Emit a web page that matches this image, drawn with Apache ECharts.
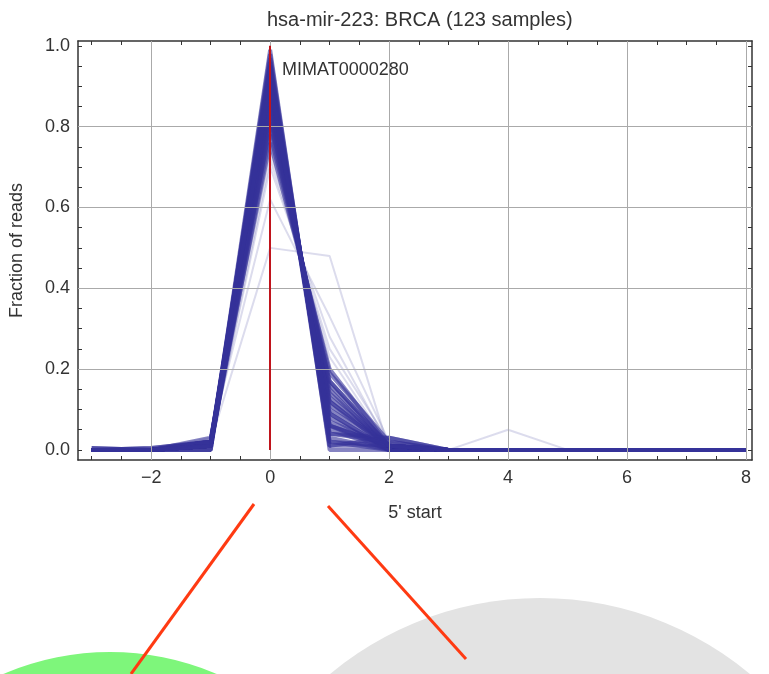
<!DOCTYPE html>
<html>
<head>
<meta charset="utf-8">
<script src="https://cdn.jsdelivr.net/npm/echarts@6/dist/echarts.min.js"></script>
<style>
  html, body { margin: 0; padding: 0; background: #fff; }
  #main { width: 769px; height: 674px; }
</style>
</head>
<body>
<div id="main"></div>
<script>
// 5' start positions (x axis)
var starts = [-3, -2, -1, 0, 1, 2, 3, 4, 5, 6, 7, 8];

// per-sample fraction of reads at each start position (main band)
var mainSamples = [
  [0, 0, 0.01, 0.99, 0.00, 0, 0, 0, 0, 0, 0, 0],
  [0, 0, 0.01, 0.97, 0.02, 0, 0, 0, 0, 0, 0, 0],
  [0, 0.005, 0.02, 0.95, 0.03, 0, 0, 0, 0, 0, 0, 0],
  [0, 0, 0.01, 0.94, 0.05, 0, 0, 0, 0, 0, 0, 0],
  [0, 0, 0.00, 0.93, 0.06, 0.01, 0, 0, 0, 0, 0, 0],
  [0.005, 0, 0.02, 0.92, 0.06, 0, 0, 0, 0, 0, 0, 0],
  [0, 0, 0.01, 0.91, 0.08, 0, 0, 0, 0, 0, 0, 0],
  [0, 0, 0.01, 0.90, 0.09, 0, 0, 0, 0, 0, 0, 0],
  [0, 0, 0.02, 0.89, 0.09, 0, 0, 0, 0, 0, 0, 0],
  [0, 0, 0.01, 0.88, 0.10, 0.01, 0, 0, 0, 0, 0, 0],
  [0, 0, 0.00, 0.87, 0.12, 0.01, 0, 0, 0, 0, 0, 0],
  [0, 0.005, 0.02, 0.86, 0.12, 0, 0, 0, 0, 0, 0, 0],
  [0, 0, 0.01, 0.85, 0.13, 0.01, 0, 0, 0, 0, 0, 0],
  [0, 0, 0.01, 0.84, 0.14, 0.01, 0, 0, 0, 0, 0, 0],
  [0, 0, 0.02, 0.83, 0.15, 0, 0, 0, 0, 0, 0, 0],
  [0, 0, 0.01, 0.82, 0.16, 0.01, 0, 0, 0, 0, 0, 0],
  [0, 0, 0.02, 0.80, 0.17, 0.01, 0, 0, 0, 0, 0, 0],
  [0, 0, 0.01, 0.96, 0.02, 0.01, 0, 0, 0, 0, 0, 0],
  [0, 0, 0.00, 0.98, 0.01, 0.01, 0, 0, 0, 0, 0, 0],
  [0, 0, 0.01, 0.92, 0.04, 0.03, 0, 0, 0, 0, 0, 0],
  [0, 0, 0.02, 0.90, 0.07, 0.01, 0, 0, 0, 0, 0, 0],
  [0.005, 0, 0.01, 0.87, 0.11, 0.01, 0, 0, 0, 0, 0, 0],
  [0, 0, 0.01, 0.78, 0.19, 0.02, 0, 0, 0, 0, 0, 0],
  [0, 0, 0.03, 0.76, 0.20, 0.01, 0, 0, 0, 0, 0, 0],
  [0, 0, 0.01, 0.93, 0.04, 0.02, 0, 0, 0, 0, 0, 0],
  [0, 0, 0.01, 0.95, 0.01, 0.03, 0, 0, 0, 0, 0, 0],
  [0, 0, 0.02, 0.91, 0.06, 0.01, 0, 0, 0, 0, 0, 0],
  [0, 0, 0.01, 0.81, 0.17, 0.01, 0, 0, 0, 0, 0, 0]
];

// faint outlier samples
var faintSamples = [
  [0, 0, 0.02, 0.50, 0.48, 0, 0, 0, 0, 0, 0, 0],
  [0, 0, 0.03, 0.62, 0.33, 0.02, 0, 0, 0, 0, 0, 0],
  [0, 0, 0.01, 0.70, 0.28, 0.01, 0, 0, 0, 0, 0, 0],
  [0, 0, 0.01, 0.88, 0.06, 0, 0, 0.05, 0, 0, 0, 0],
  [0, 0, 0.01, 0.72, 0.25, 0.02, 0, 0, 0, 0, 0, 0],
  [0, 0, 0.02, 0.74, 0.23, 0.01, 0, 0, 0, 0, 0, 0]
];

var xLabelVals = [-2, 0, 2, 4, 6, 8];
var xTickVals = [-3, -2.5, -2, -1.5, -1, -0.5, 0, 0.5, 1, 1.5, 2, 2.5, 3, 3.5, 4, 4.5, 5, 5.5, 6, 6.5, 7, 7.5, 8];
var yLabelVals = [0, 0.2, 0.4, 0.6, 0.8, 1.0];
var yTickVals = [0, 0.05, 0.1, 0.15, 0.2, 0.25, 0.3, 0.35, 0.4, 0.45, 0.5, 0.55, 0.6, 0.65, 0.7, 0.75, 0.8, 0.85, 0.9, 0.95, 1.0];
var xGridVals = [-2, 0, 2, 4, 6, 8];
var yGridVals = [0.2, 0.4, 0.6, 0.8];

var font = 'Liberation Sans, Arial, sans-serif';
var chart = echarts.init(document.getElementById('main'));

function toPoints(row) {
  return row.map(function (v, i) { return [starts[i], v]; });
}

var series = [];
// grid lines
series.push({
  name: 'grid', type: 'line', data: [], z: 1,
  markLine: {
    silent: true, symbol: 'none', label: { show: false }, animation: false,
    lineStyle: { color: '#aaa', width: 1, type: 'solid' },
    data: xGridVals.map(function (v) { return { xAxis: v }; })
      .concat(yGridVals.map(function (v) { return { yAxis: v }; }))
  }
});
faintSamples.forEach(function (row, i) {
  series.push({
    name: 'faint' + i, type: 'line', data: toPoints(row), symbol: 'none', silent: true,
    lineStyle: { color: '#3d3d99', width: 2, opacity: 0.18 }, z: 2
  });
});
mainSamples.forEach(function (row, i) {
  series.push({
    name: 'main' + i, type: 'line', data: toPoints(row), symbol: 'none', silent: true,
    lineStyle: { color: '#35329a', width: 4, opacity: 0.6 }, z: 3
  });
});
// red reference line and label
series.push({
  name: 'ref', type: 'line', data: [], z: 5,
  markLine: {
    silent: true, symbol: 'none', label: { show: false },
    lineStyle: { color: '#c0141c', width: 2, type: 'solid' },
    data: [[{ coord: [0, 0] }, { coord: [0, 1] }]]
  },
  markPoint: {
    silent: true, symbolSize: 0,
    label: { show: true, position: 'right', distance: 0, formatter: 'MIMAT0000280', color: '#333', fontSize: 18, fontFamily: font },
    data: [{ coord: [0.2, 0.94] }]
  }
});

var tickStyle = { show: true, inside: true, length: 4, lineStyle: { color: '#333' } };
var option = {
  animation: false,
  backgroundColor: '#fff',
  title: {
    text: 'hsa-mir-223: BRCA (123 samples)',
    left: 262, top: 5,
    textStyle: { fontSize: 20, fontWeight: 'normal', color: '#333', fontFamily: font }
  },
  grid: { left: 78, right: 17, top: 41, bottom: 214 },
  xAxis: [{
    type: 'value', min: -3.23, max: 8.1,
    name: "5' start", nameLocation: 'middle', nameGap: 44,
    nameTextStyle: { fontSize: 18, color: '#333', fontFamily: font },
    axisLine: { show: true, onZero: false, lineStyle: { color: '#333', width: 1.5 } },
    axisTick: Object.assign({ customValues: xTickVals }, tickStyle),
    axisLabel: { customValues: xLabelVals, fontSize: 18, color: '#333', fontFamily: font, margin: 9,
      formatter: function (v) { return v < 0 ? '\u2212' + Math.abs(v) : String(v); } },
    splitLine: { show: false }
  }, {
    type: 'value', min: -3.23, max: 8.1, position: 'top',
    axisLine: { show: true, onZero: false, lineStyle: { color: '#333', width: 1.5 } },
    axisTick: Object.assign({ customValues: xTickVals }, tickStyle),
    axisLabel: { show: false }, splitLine: { show: false }
  }],
  yAxis: [{
    type: 'value', min: -0.025, max: 1.012,
    name: 'Fraction of reads', nameLocation: 'middle', nameGap: 52,
    nameTextStyle: { fontSize: 18, color: '#333', fontFamily: font },
    axisLine: { show: true, onZero: false, lineStyle: { color: '#333', width: 1.5 } },
    axisTick: Object.assign({ customValues: yTickVals }, tickStyle),
    axisLabel: { customValues: yLabelVals, fontSize: 18, color: '#333', fontFamily: font, margin: 8,
      formatter: function (v) { return v.toFixed(1); } },
    splitLine: { show: false }
  }, {
    type: 'value', min: -0.025, max: 1.012, position: 'right',
    axisLine: { show: true, onZero: false, lineStyle: { color: '#333', width: 1.5 } },
    axisTick: Object.assign({ customValues: yTickVals }, tickStyle),
    axisLabel: { show: false }, splitLine: { show: false }
  }],
  graphic: [
    { type: 'circle', z: -1, shape: { cx: 110, cy: 923, r: 271 }, style: { fill: '#7ef67b' } },
    { type: 'circle', z: -1, shape: { cx: 540, cy: 926, r: 328 }, style: { fill: '#e3e3e3' } },
    { type: 'line', z: 1, shape: { x1: 254, y1: 504, x2: 131, y2: 674 }, style: { stroke: '#ff3a12', lineWidth: 3 } },
    { type: 'line', z: 1, shape: { x1: 328, y1: 506, x2: 466, y2: 659 }, style: { stroke: '#ff3a12', lineWidth: 3 } }
  ],
  series: series
};
chart.setOption(option);
</script>
</body>
</html>
